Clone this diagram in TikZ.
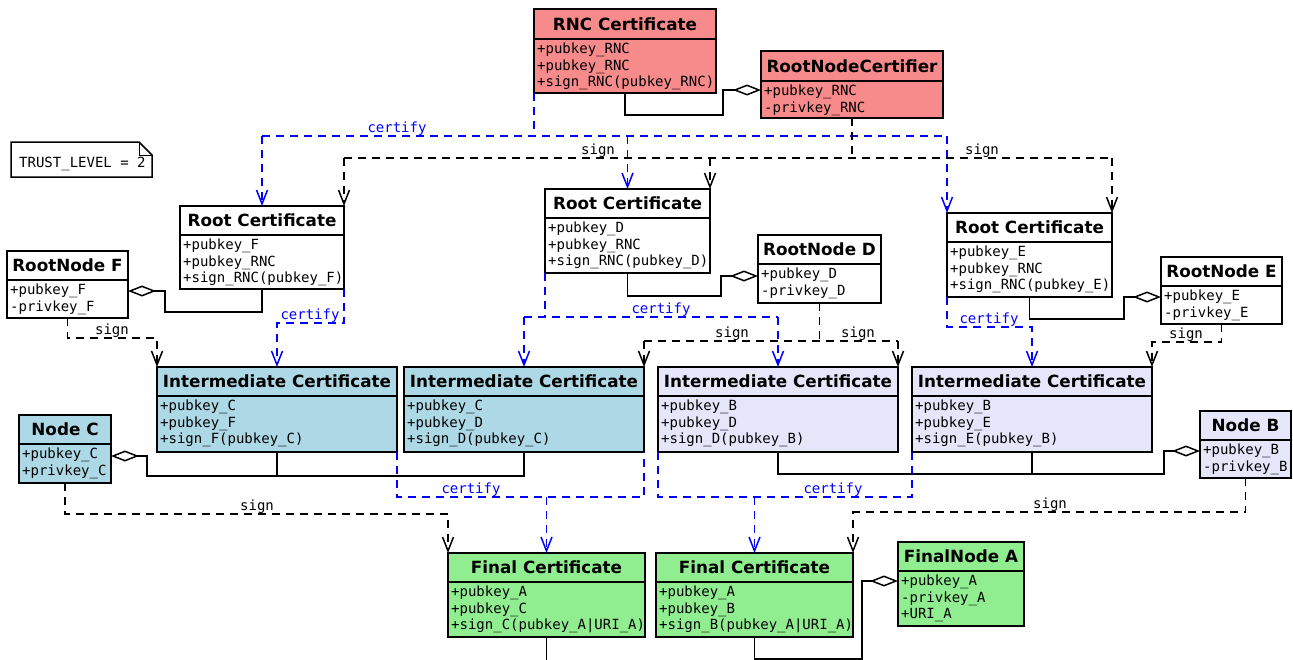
\documentclass[tikz,border=0pt]{standalone}
\usepackage{fontspec}
\usetikzlibrary{arrows.meta}
\newfontfamily\tfont{DejaVu Sans}
\newfontfamily\mfont{DejaVu Sans Mono}
\definecolor{rncred}{RGB}{247,138,138}
\definecolor{iblue}{RGB}{173,216,230}
\definecolor{ilav}{RGB}{230,230,250}
\definecolor{fgreen}{RGB}{144,238,144}
\definecolor{lblue}{RGB}{0,0,255}
\newcommand{\alines}[1]{\vtop{\halign{##\hfil\cr#1\crcr}}}
\tikzset{
  cls/.style={draw, line width=1.5pt, inner sep=0pt, outer sep=0pt},
  ttl/.style={font=\tfont\bfseries\fontsize{16.8}{20}\selectfont, inner sep=0pt, anchor=base},
  att/.style={font=\mfont\fontsize{14}{16.7}\selectfont, inner sep=0pt, anchor=base west},
  lbl/.style={font=\mfont\fontsize{14}{16}\selectfont, inner sep=0pt, anchor=base},
  conn/.style={line width=1.5pt},
  agg/.style={conn, -{Diamond[length=28pt,width=11pt,fill=white]}},
  dep/.style={conn, dash pattern=on 8pt off 6pt},
  cert/.style={dep, draw=lblue},
  sig/.style={dep, draw=black},
  tip/.style={-{Straight Barb[length=14pt,width=11pt]}},
}
% #1 name, #2 fill, #3 x1, #4 top, #5 x2, #6 separator, #7 bottom, #8 title, #9 attributes
\newcommand{\umlclass}[9]{%
  \node[cls, fill=#2, minimum width={(#5-#3)*1pt}, minimum height={(#7-#4)*1pt}, anchor=north west] (#1) at (#3,-#4) {};
  \draw[line width=1.5pt] (#1.west |- 0,-#6) -- (#1.east |- 0,-#6);
  \node[ttl] (#1-t) at ({(#3+#5)/2}, {-((#4+#6)/2+6)}) {#8};
  \node[att] (#1-a) at ({#3+3}, {-(#6+14.3)}) {\alines{#9}};
}
\begin{document}
\begin{tikzpicture}[x=1pt,y=1pt]
\useasboundingbox (0,0) rectangle (1293,-659);
\fill[white] (0,0) rectangle (1293,-659);

% note
\draw[line width=1.5pt, fill=white] (11,-142) -- (139,-142) -- (152,-155) -- (152,-177) -- (11,-177) -- cycle;
\draw[line width=1pt] (139,-142) -- (139,-155) -- (152,-155);
\node[att] (trust) at (19,-167.5) {TRUST\_LEVEL = 2};

% classes
\umlclass{rnc}{rncred}{534}{9}{716}{39}{93}{RNC Certificate}{+pubkey\_RNC\cr +pubkey\_RNC\cr +sign\_RNC(pubkey\_RNC)}
\umlclass{rncer}{rncred}{761}{51}{943}{81}{118}{RootNodeCertifier}{+pubkey\_RNC\cr -privkey\_RNC}
\umlclass{rootF}{white}{180}{206}{344}{235}{289}{Root Certificate}{+pubkey\_F\cr +pubkey\_RNC\cr +sign\_RNC(pubkey\_F)}
\umlclass{rnF}{white}{7}{251}{128}{280}{318}{RootNode F}{+pubkey\_F\cr -privkey\_F}
\umlclass{rootD}{white}{545}{189}{710}{218}{273}{Root Certificate}{+pubkey\_D\cr +pubkey\_RNC\cr +sign\_RNC(pubkey\_D)}
\umlclass{rnD}{white}{758}{235}{881}{264}{303}{RootNode D}{+pubkey\_D\cr -privkey\_D}
\umlclass{rootE}{white}{947}{213}{1112}{242}{297}{Root Certificate}{+pubkey\_E\cr +pubkey\_RNC\cr +sign\_RNC(pubkey\_E)}
\umlclass{rnE}{white}{1161}{257}{1282}{286}{324}{RootNode E}{+pubkey\_E\cr -privkey\_E}
\umlclass{iCF}{iblue}{157}{367}{397}{396}{452}{Intermediate Certificate}{+pubkey\_C\cr +pubkey\_F\cr +sign\_F(pubkey\_C)}
\umlclass{iCD}{iblue}{404}{367}{644}{396}{452}{Intermediate Certificate}{+pubkey\_C\cr +pubkey\_D\cr +sign\_D(pubkey\_C)}
\umlclass{iBD}{ilav}{658}{367}{898}{396}{452}{Intermediate Certificate}{+pubkey\_B\cr +pubkey\_D\cr +sign\_D(pubkey\_B)}
\umlclass{iBE}{ilav}{912}{367}{1152}{396}{452}{Intermediate Certificate}{+pubkey\_B\cr +pubkey\_E\cr +sign\_E(pubkey\_B)}
\umlclass{nC}{iblue}{19}{415}{111}{444}{483}{Node C}{+pubkey\_C\cr +privkey\_C}
\umlclass{nB}{ilav}{1200}{411}{1291}{440}{478}{Node B}{+pubkey\_B\cr -privkey\_B}
\umlclass{fC}{fgreen}{448}{553}{645}{582}{637}{Final Certificate}{+pubkey\_A\cr +pubkey\_C\cr +sign\_C(pubkey\_A|URI\_A)}
\umlclass{fB}{fgreen}{656}{553}{853}{582}{637}{Final Certificate}{+pubkey\_A\cr +pubkey\_B\cr +sign\_B(pubkey\_A|URI\_A)}
\umlclass{fA}{fgreen}{898}{542}{1024}{571}{626}{FinalNode A}{+pubkey\_A\cr -privkey\_A\cr +URI\_A}

% levels
\coordinate (yc1) at (0,-136);
\coordinate (ys1) at (0,-158);
\coordinate (ycD) at (0,-317);
\coordinate (ysD) at (0,-341);
\coordinate (ycF) at (0,-497);

% aggregations
\draw[agg] (rnc.south) |- (723,-115) |- (rncer.west |- 0,-90);
\draw[agg] (rootF.south) |- (165,-312) |- (rnF.east |- 0,-291);
\draw[agg] (rootD.south) |- (721,-296) |- (rnD.west |- 0,-276);
\draw[agg] (rootE.south) |- (1124,-319) |- (rnE.west |- 0,-297);
\draw[agg] (iCD.south) |- (147,-476) |- (nC.east |- 0,-456);
\draw[conn] (iCF.south) -- (iCF.south |- 0,-476);
\draw[agg] (iBD.south) |- (1164,-474) |- (nB.west |- 0,-451);
\draw[conn] (iBE.south) -- (iBE.south |- 0,-474);
\draw[agg] (fB.south) |- (862,-658.8) |- (fA.west |- 0,-581);
\draw[conn] (fC.south) -- ++(0,-30);

% certify from RNC
\draw[cert] (rnc.south west) -- (rnc.south west |- yc1);
\draw[cert] (rootF.north |- yc1) -- (rootE.north west |- yc1);
\draw[cert,tip] (rootF.north |- yc1) -- (rootF.north);
\draw[cert,tip] (rootD.north |- yc1) -- (rootD.north);
\draw[cert,tip] (rootE.north west |- yc1) -- (rootE.north west);
% sign from RootNodeCertifier
\draw[sig] (rncer.south) -- (rncer.south |- ys1);
\draw[sig] (rootF.north east |- ys1) -- (rootE.north east |- ys1);
\draw[sig,tip] (rootF.north east |- ys1) -- (rootF.north east);
\draw[sig,tip] (rootD.north east |- ys1) -- (rootD.north east);
\draw[sig,tip] (rootE.north east |- ys1) -- (rootE.north east);

% F branch
\draw[cert,tip] (rootF.south east) -- ++(0,-34) -| (iCF.north);
\draw[sig,tip] (rnF.south) -- ++(0,-20) -| (iCF.north west);
% D branch
\draw[cert] (rootD.south west) -- (rootD.south west |- ycD);
\draw[cert] (iCD.north |- ycD) -- (iBD.north |- ycD);
\draw[cert,tip] (iCD.north |- ycD) -- (iCD.north);
\draw[cert,tip] (iBD.north |- ycD) -- (iBD.north);
\draw[sig] (rnD.south) -- (rnD.south |- ysD);
\draw[sig] (iCD.north east |- ysD) -- (iBD.north east |- ysD);
\draw[sig,tip] (iCD.north east |- ysD) -- (iCD.north east);
\draw[sig,tip] (iBD.north east |- ysD) -- (iBD.north east);
% E branch
\draw[cert,tip] (rootE.south west) -- ++(0,-30) -| (iBE.north);
\draw[sig,tip] (rnE.south) -- ++(0,-18) -| (iBE.north east);

% to final certificates
\draw[sig,tip] (nC.south) -- ++(0,-31) -| (fC.north west);
\draw[sig,tip] (nB.south) -- ++(0,-34) -| (fB.north east);
\draw[cert] (iCF.south east) |- (iCD.south east |- ycF) -- (iCD.south east);
\draw[cert,tip] (fC.north |- ycF) -- (fC.north);
\draw[cert] (iBD.south west) |- (iBE.south west |- ycF) -- (iBE.south west);
\draw[cert,tip] (fB.north |- ycF) -- (fB.north);

% labels
\node[lbl, text=lblue] (lc1) at (397,-132) {certify};
\node[lbl, text=lblue] (lc2) at (310,-319) {certify};
\node[lbl, text=lblue] (lc3) at (661,-313) {certify};
\node[lbl, text=lblue] (lc4) at (989,-323) {certify};
\node[lbl, text=lblue] (lc5) at (471,-493) {certify};
\node[lbl, text=lblue] (lc6) at (833,-493) {certify};
\node[lbl] (ls1) at (598,-154) {sign};
\node[lbl] (ls2) at (982,-154) {sign};
\node[lbl] (ls3) at (112,-334) {sign};
\node[lbl] (ls4) at (732,-337) {sign};
\node[lbl] (ls5) at (858,-337) {sign};
\node[lbl] (ls6) at (1186,-338) {sign};
\node[lbl] (ls7) at (257,-510) {sign};
\node[lbl] (ls8) at (1050,-508) {sign};
\end{tikzpicture}
\end{document}
